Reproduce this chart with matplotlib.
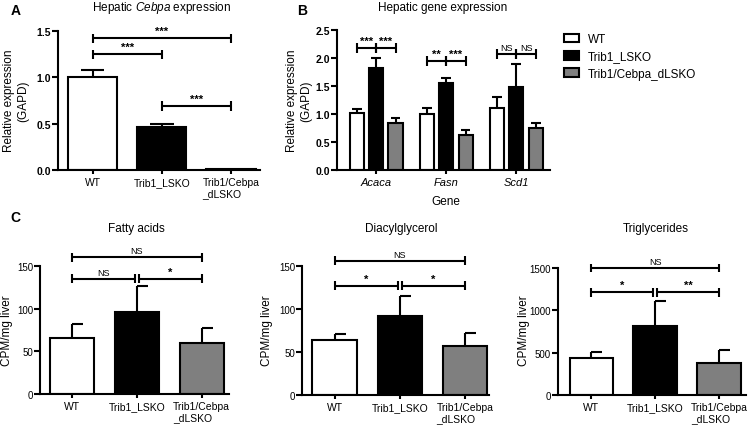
import matplotlib
matplotlib.use('Agg')
import matplotlib.pyplot as plt
from matplotlib.patches import Patch

plt.rcParams['font.family'] = ['Liberation Sans', 'DejaVu Sans']
plt.rcParams['mathtext.fontset'] = 'custom'
plt.rcParams['mathtext.rm'] = 'Liberation Sans'
plt.rcParams['mathtext.it'] = 'Liberation Sans:italic'

W, H = 754, 427

groups = ['WT', 'Trib1_LSKO', 'Trib1/Cebpa\n_dLSKO']
legend_labels = ['WT', 'Trib1_LSKO', 'Trib1/Cebpa_dLSKO']
colors = ['white', 'black', '#7f7f7f']

# A: hepatic Cebpa
a_mean = [1.0, 0.46, 0.01]
a_err = [0.08, 0.04, 0.0]
a_yticks = [0.0, 0.5, 1.0, 1.5]
a_sig = [(0, 2, 1.42, '***'), (0, 1, 1.25, '***'), (1, 2, 0.69, '***')]

# B: hepatic gene expression
genes = ['Acaca', 'Fasn', 'Scd1']
b_wt = [1.01, 1.0, 1.11]
b_wt_err = [0.08, 0.10, 0.19]
b_lsko = [1.83, 1.55, 1.48]
b_lsko_err = [0.17, 0.10, 0.41]
b_dlsko = [0.84, 0.62, 0.75]
b_dlsko_err = [0.08, 0.09, 0.09]
b_yticks = [0.0, 0.5, 1.0, 1.5, 2.0, 2.5]
b_sig_y = [2.18, 1.95, 2.07]
b_sig = [('***', '***'), ('**', '***'), ('NS', 'NS')]

# C: lipid synthesis
c_titles = ['Fatty acids', 'Diacylglycerol', 'Triglycerides']
fa_mean = [65.5, 96.5, 60.0]
fa_err = [16.5, 30.0, 17.0]
dag_mean = [64.0, 92.0, 57.0]
dag_err = [7.0, 23.5, 15.0]
tg_mean = [433, 819, 374]
tg_err = [79, 287, 154]
fa_yticks = [0, 50, 100, 150]
dag_yticks = [0, 50, 100, 150]
tg_yticks = [0, 500, 1000, 1500]
fa_sig = [(160, 'NS'), (135, 'NS'), (135, '*')]
dag_sig = [(156, 'NS'), (127, '*'), (127, '*')]
tg_sig = [(1500, 'NS'), (1213, '*'), (1213, '**')]

fig = plt.figure(figsize=(W / 100, H / 100), dpi=100)


def add_ax(l, t, r, b):
    ax = fig.add_axes([l / W, 1 - b / H, (r - l) / W, (b - t) / H])
    for s in ['top', 'right']:
        ax.spines[s].set_visible(False)
    for s in ['left', 'bottom']:
        ax.spines[s].set_linewidth(1.5)
    ax.tick_params(axis='y', width=1.5, length=4, pad=1)
    ax.tick_params(axis='x', width=1.5, length=3, pad=2)
    return ax


def errs(ax, x, mean, err, cap, half=False):
    for xi, m, e in zip(x, mean, err):
        if e <= 0:
            continue
        ax.plot([xi, xi], [m, m + e], color='k', lw=1.5, zorder=3, solid_capstyle='butt')
        x0 = xi if half else xi - cap
        ax.plot([x0, xi + cap], [m + e, m + e], color='k', lw=1.5, zorder=3, solid_capstyle='butt')


def bracket(ax, x1, x2, y, label, tick, fs, bold=True):
    kw = dict(color='k', lw=1.5, clip_on=False, solid_capstyle='butt')
    ax.plot([x1, x2], [y, y], **kw)
    for xx in (x1, x2):
        ax.plot([xx, xx], [y - tick, y + tick], **kw)
    ax.annotate(label, xy=((x1 + x2) / 2, y), xytext=(0, 1.5), textcoords='offset points',
                ha='center', va='bottom', fontsize=fs, annotation_clip=False,
                fontweight='bold' if bold and '*' in label else 'normal')


# ---- panel A
ax = add_ax(58, 32, 260, 171)
x = range(3)
ax.bar(x, a_mean, 0.71, color=colors, edgecolor='k', linewidth=1.5, zorder=2)
errs(ax, x, a_mean, a_err, 0.17)
ax.set_xlim(-0.5, 2.42)
ax.set_ylim(0, 1.5)
ax.set_yticks(a_yticks)
ax.set_yticklabels([f'{v:.1f}' for v in a_yticks], fontsize=7.5, fontweight='bold')
ax.set_xticks(list(x))
ax.set_xticklabels(groups, fontsize=7.5)
for t in ax.get_xticklabels():
    t.set_multialignment('left')
for x1, x2, y, lab in a_sig:
    bracket(ax, x1, x2, y, lab, 0.05, 8)
fig.text(16 / W, 1 - 11 / H, 'A', fontsize=10, fontweight='bold', ha='center', va='center')
fig.text(162 / W, 1 - 8 / H, r'Hepatic $\mathit{Cebpa}$ expression', fontsize=8.5, ha='center', va='center')
fig.text(16 / W, 1 - 101 / H, 'Relative expression\n(GAPD)', fontsize=8.5, rotation=90,
         ha='center', va='center', multialignment='center')

# ---- panel B
ax = add_ax(337, 31, 550, 171)
off, bw = 0.275, 0.2
xs = list(range(3))
for k, (m, e) in enumerate([(b_wt, b_wt_err), (b_lsko, b_lsko_err), (b_dlsko, b_dlsko_err)]):
    xx = [g + (k - 1) * off for g in xs]
    ax.bar(xx, m, bw, color=colors[k], edgecolor='k', linewidth=1.5, zorder=2)
    errs(ax, xx, m, e, 0.07)
ax.set_xlim(-0.56, 2.48)
ax.set_ylim(0, 2.5)
ax.set_yticks(b_yticks)
ax.set_yticklabels([f'{v:.1f}' for v in b_yticks], fontsize=7.5, fontweight='bold')
ax.set_xticks(xs)
ax.set_xticklabels(genes, fontsize=8, fontstyle='italic')
for g, y, (l1, l2) in zip(xs, b_sig_y, b_sig):
    fs1 = 6.5 if l1 == 'NS' else 8
    bracket(ax, g - off, g, y, l1, 0.09, fs1)
    bracket(ax, g, g + off, y, l2, 0.09, fs1)
fig.text(302 / W, 1 - 11 / H, 'B', fontsize=10, fontweight='bold', ha='center', va='center')
fig.text(443 / W, 1 - 8 / H, 'Hepatic gene expression', fontsize=8.5, ha='center', va='center')
fig.text(299 / W, 1 - 101 / H, 'Relative expression\n(GAPD)', fontsize=8.5, rotation=90,
         ha='center', va='center', multialignment='center')
fig.text(446 / W, 1 - 202 / H, 'Gene', fontsize=8.5, ha='center', va='center')

fig.legend(handles=[Patch(facecolor=c, edgecolor='k', linewidth=1.5, label=l)
                    for c, l in zip(colors, legend_labels)],
           loc='upper left', bbox_to_anchor=(564 / W, 1 - 34 / H), frameon=False,
           fontsize=8.5, handlelength=1.3, handleheight=0.75, handletextpad=0.7,
           labelspacing=0.45, borderpad=0, borderaxespad=0)

# ---- panel C
c_boxes = [(40, 267, 229, 395, -0.49, 2.42), (302, 267, 489, 396, -0.5, 2.37),
           (558, 269, 746, 396, -0.52, 2.42)]
c_data = [(fa_mean, fa_err, fa_yticks, fa_sig), (dag_mean, dag_err, dag_yticks, dag_sig),
          (tg_mean, tg_err, tg_yticks, tg_sig)]
c_title_x = [136, 401, 656]
c_label_x = [7, 267, 524]
for (l, t, r, b, x0, x1), (m, e, yt, sig), title, tx, lx in zip(c_boxes, c_data, c_titles, c_title_x, c_label_x):
    ax = add_ax(l, t, r, b)
    x = range(3)
    ax.bar(x, m, 0.68, color=colors, edgecolor='k', linewidth=1.5, zorder=2)
    errs(ax, x, m, e, 0.17, half=True)
    ax.set_xlim(x0, x1)
    ax.set_ylim(0, yt[-1])
    ax.set_yticks(yt)
    ax.set_yticklabels([str(v) for v in yt], fontsize=7)
    ax.set_xticks(list(x))
    ax.set_xticklabels(groups, fontsize=7.5)
    for tl in ax.get_xticklabels():
        tl.set_multialignment('left')
    tick = yt[-1] * 0.035
    bracket(ax, 0, 2, sig[0][0], sig[0][1], tick, 6.5)
    bracket(ax, 0, 0.97, sig[1][0], sig[1][1], tick, 6.5 if sig[1][1] == 'NS' else 8)
    bracket(ax, 1.03, 2, sig[2][0], sig[2][1], tick, 6.5 if sig[2][1] == 'NS' else 8)
    fig.text(tx / W, 1 - 229 / H, title, fontsize=8.5, ha='center', va='center')
    fig.text(lx / W, 1 - 331 / H, 'CPM/mg liver', fontsize=8.5, rotation=90, ha='center', va='center')

fig.text(15 / W, 1 - 218 / H, 'C', fontsize=10, fontweight='bold', ha='center', va='center')

fig.savefig('out.png', dpi=100)
